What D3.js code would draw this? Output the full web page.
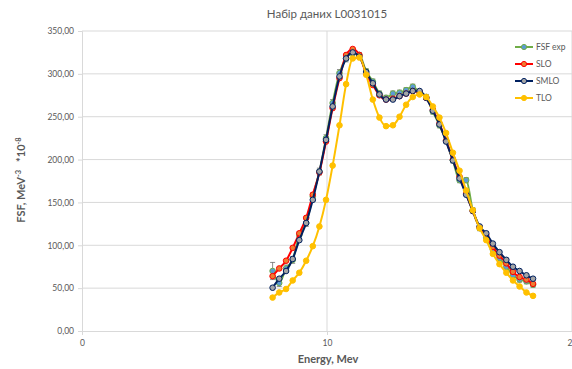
<!DOCTYPE html>
<html>
<head>
<meta charset="utf-8">
<script src="https://cdn.jsdelivr.net/npm/d3@7"></script>
<style>
  body { margin: 0; background: #fff; }
  svg { display: block; font-family: Lato, "Open Sans", sans-serif; }
</style>
</head>
<body>
<script>
// energies, MeV
var energy = [7.78, 8.05, 8.33, 8.60, 8.87, 9.15, 9.42, 9.69, 9.96, 10.23,
              10.51, 10.78, 11.05, 11.32, 11.60, 11.87, 12.14, 12.41, 12.69, 12.96,
              13.23, 13.50, 13.78, 14.05, 14.32, 14.59, 14.86, 15.14, 15.41, 15.68,
              15.95, 16.23, 16.50, 16.77, 17.04, 17.32, 17.59, 17.86, 18.14, 18.41];

var fsfExp = [70, 56, 73, 83, 112, 126, 157, 186, 225, 266,
              301, 318, 324, 322, 303, 291, 277, 272, 277, 278,
              281, 285, 278, 273, 256, 240, 222, 199, 176, 176,
              141, 120, 109, 95, 85, 75, 65, 60, 58, 54];
var fsfErr = [10, 4, 4, 4, 4, 4, 4, 4, 4, 4,
              4, 4, 3, 3, 3, 3, 3, 3, 3, 3,
              3, 3, 3, 3, 3, 3, 3, 3, 3, 3,
              3, 3, 3, 3, 3, 3, 3, 3, 3, 3];
var slo    = [64, 73, 82, 97, 114, 132, 159, 185, 221, 260,
              295, 322, 329, 322, 300, 287, 275, 270, 271, 274,
              277, 280, 279, 272, 258, 242, 222, 200, 180, 160,
              140, 121, 112, 98, 88, 79, 69, 63, 60, 55];
var smlo   = [50.5, 61, 70, 84, 106, 126, 153, 186, 223, 262,
              297, 318, 325, 320, 302, 289, 276, 270, 270, 274,
              277, 280, 280, 272, 257, 241, 221, 199, 178, 159,
              140, 122, 114, 102, 92, 83, 75, 70, 65, 61];
var tlo    = [39, 45, 49, 59, 68, 82, 99, 122, 153, 193,
              240, 288, 318, 319, 299, 270, 249, 239, 240, 250,
              264, 273, 276, 273, 262, 249, 231, 208, 187, 164,
              141, 120, 106, 90, 78, 68, 59, 52, 45, 41];

var yTicks = [0, 50, 100, 150, 200, 250, 300, 350];
var xTicks = [0, 10, 20];

var series = [
  {name: "FSF exp", values: fsfExp, line: "#70AD47", fill: "#5B9BD5", stroke: "#70AD47"},
  {name: "SLO", values: slo, line: "#FF0000", fill: "#ED7D31", stroke: "#FF0000"},
  {name: "SMLO", values: smlo, line: "#002060", fill: "#A5A5A5", stroke: "#002060"},
  {name: "TLO", values: tlo, line: "#FFC000", fill: "#FFC000", stroke: "#FFC000"}
];

var W = 572, H = 369;
var x = d3.scaleLinear().domain([0, 20]).range([82, 572]);
var y = d3.scaleLinear().domain([0, 350]).range([331, 31]);

var svg = d3.select("body").append("svg")
    .attr("width", W)
    .attr("height", H);

// gridlines
svg.append("g")
  .selectAll("line")
  .data(yTicks.slice(1))
  .enter().append("line")
    .attr("x1", 82).attr("x2", W)
    .attr("y1", function(d) { return y(d); })
    .attr("y2", function(d) { return y(d); })
    .attr("stroke", "#D9D9D9").attr("stroke-width", 1);

svg.append("g")
  .selectAll("line")
  .data(xTicks.slice(1))
  .enter().append("line")
    .attr("x1", function(d) { return x(d); })
    .attr("x2", function(d) { return x(d); })
    .attr("y1", 31).attr("y2", 331)
    .attr("stroke", "#D9D9D9").attr("stroke-width", 1);

// axes
var yAxis = svg.append("g")
    .attr("transform", "translate(82,0)")
    .call(d3.axisLeft(y).tickValues(yTicks).tickSize(4).tickPadding(4)
      .tickFormat(function(d) { return d3.format(".2f")(d).replace(".", ","); }));
yAxis.select(".domain").attr("stroke", "#D9D9D9");
yAxis.selectAll(".tick line").attr("stroke", "#D9D9D9");
yAxis.selectAll("text").attr("fill", "#595959").attr("font-size", "8.5px")
    .attr("font-family", "Lato, sans-serif");

var xAxis = svg.append("g")
    .attr("transform", "translate(0,331)")
    .call(d3.axisBottom(x).tickValues(xTicks).tickSize(4).tickPadding(5));
xAxis.select(".domain").attr("stroke", "#D9D9D9");
xAxis.selectAll(".tick line").attr("stroke", "#D9D9D9");
xAxis.selectAll("text").attr("fill", "#595959").attr("font-size", "8.5px")
    .attr("font-family", "Lato, sans-serif");

// error bars for the experiment
var eb = svg.append("g").attr("stroke", "#595959").attr("stroke-width", 0.7);
energy.forEach(function(e, i) {
  var cx = x(e), top = y(fsfExp[i] + fsfErr[i]), bot = y(fsfExp[i] - fsfErr[i]);
  eb.append("line").attr("x1", cx).attr("x2", cx).attr("y1", top).attr("y2", bot);
  eb.append("line").attr("x1", cx - 2.5).attr("x2", cx + 2.5).attr("y1", top).attr("y2", top);
  eb.append("line").attr("x1", cx - 2.5).attr("x2", cx + 2.5).attr("y1", bot).attr("y2", bot);
});

var line = d3.line()
    .x(function(d) { return x(d[0]); })
    .y(function(d) { return y(d[1]); })
    .curve(d3.curveMonotoneX);

series.forEach(function(s) {
  var pts = energy.map(function(e, i) { return [e, s.values[i]]; });
  var g = svg.append("g");
  g.append("path")
    .datum(pts)
    .attr("d", line)
    .attr("fill", "none")
    .attr("stroke", s.line)
    .attr("stroke-width", 2);
  g.selectAll("circle")
    .data(pts)
    .enter().append("circle")
      .attr("cx", function(d) { return x(d[0]); })
      .attr("cy", function(d) { return y(d[1]); })
      .attr("r", 2.8)
      .attr("fill", s.fill)
      .attr("stroke", s.stroke)
      .attr("stroke-width", 1);
});

// title
svg.append("text")
    .attr("x", 327).attr("y", 18)
    .attr("text-anchor", "middle")
    .attr("fill", "#595959")
    .attr("font-size", "11.5px")
    .text("Набір даних L0031015");

// axis labels
svg.append("text")
    .attr("x", 328).attr("y", 363)
    .attr("text-anchor", "middle")
    .attr("fill", "#595959")
    .attr("font-size", "11px")
    .attr("font-weight", "bold")
    .text("Energy, Mev");

var yl = svg.append("text")
    .attr("transform", "translate(25,180) rotate(-90)")
    .attr("text-anchor", "middle")
    .attr("fill", "#595959")
    .attr("font-size", "11px")
    .attr("font-weight", "bold");
yl.append("tspan").text("FSF, MeV");
yl.append("tspan").attr("dy", "-4").attr("font-size", "7.5px").text("-3");
yl.append("tspan").attr("dy", "4").text("\u00a0\u00a0 *10");
yl.append("tspan").attr("dy", "-4").attr("font-size", "7.5px").text("-8");

// legend
var legend = svg.selectAll(".legend")
    .data(series)
  .enter().append("g")
    .attr("class", "legend")
    .attr("transform", function(d, i) { return "translate(0," + (47 + i * 17) + ")"; });

legend.append("line")
    .attr("x1", 515).attr("x2", 533)
    .attr("stroke", function(d) { return d.line; })
    .attr("stroke-width", 2);
legend.append("circle")
    .attr("cx", 524).attr("r", 2.6)
    .attr("fill", function(d) { return d.fill; })
    .attr("stroke", function(d) { return d.stroke; });
legend.append("text")
    .attr("x", 536).attr("dy", "0.35em")
    .attr("fill", "#595959")
    .attr("font-size", "8.5px")
    .text(function(d) { return d.name; });
</script>
</body>
</html>
